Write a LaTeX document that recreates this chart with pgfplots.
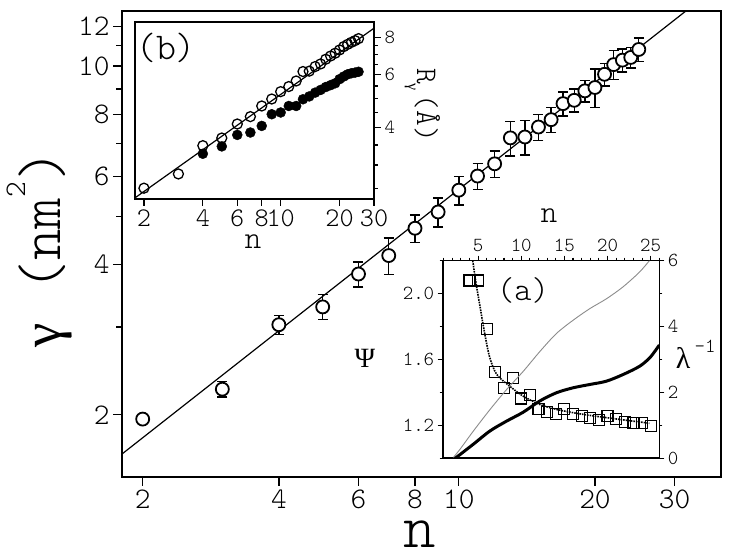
\documentclass[border=0pt]{standalone}
\usepackage{fontspec}
\usepackage{pgfplots}
\usepackage{pgfplotstable}
\pgfplotsset{compat=1.18}
\newfontfamily\gr{Liberation Serif}
\newfontfamily\lt{lmmonolt10-regular.otf}
\newcommand{\fs}[1]{\fontsize{#1}{#1}\selectfont}

% main panel: gamma vs n, with error bars
\pgfplotstableread{
n  g     e
2  1.96  0.04
3  2.25  0.08
4  3.03  0.13
5  3.29  0.19
6  3.83  0.22
7  4.17  0.35
8  4.73  0.30
9  5.10  0.34
10 5.64  0.37
11 6.02  0.36
12 6.37  0.39
13 7.18  0.57
14 7.21  0.57
15 7.55  0.45
16 7.81  0.44
17 8.41  0.46
18 8.54  0.45
19 8.92  0.45
20 9.06  0.80
21 9.63  0.50
22 10.07 0.67
23 10.28 0.55
24 10.41 0.50
25 10.80 0.58
}\maindata

\begin{document}
\begin{tikzpicture}[x=1bp,y=1bp]
\useasboundingbox (0,0) rectangle (729,557);

\begin{axis}[at={(122bp,80bp)}, anchor=south west, scale only axis,
  width=599bp, height=466bp,
  xmode=log, ymode=log, xmin=1.8, xmax=38, ymin=1.5, ymax=12.9,
  axis line style={line width=1.8bp},
  tick align=outside, xtick pos=left, ytick pos=left,
  xtick={2,4,6,8,10,20,30}, xticklabels={2,4,6,8,10,20,30},
  ytick={2,4,6,8,10,12}, yticklabels={2,4,6,8,10,12},
  minor ytick={3,5,7,9,11},
  major tick length=9bp, minor tick length=6bp,
  every tick/.style={line width=1.3bp, black},
  ticklabel style={font=\lt\fs{30}},
]
\addplot[black, only marks, mark=*, mark size=6.5bp,
  mark options={fill=white, line width=1.8bp},
  error bars/.cd, y dir=both, y explicit,
  error bar style={line width=1.4bp},
  error mark options={mark size=5bp, line width=1.4bp, rotate=90}]
  table[x=n, y=g, y error=e] {\maindata};
\addplot[black, line width=1.2bp] coordinates {(1.8,1.668) (40,15.2)};
\end{axis}

% inset (b): R_gamma vs n
\begin{axis}[at={(135bp,358bp)}, anchor=south west, scale only axis,
  width=239bp, height=177bp,
  xmode=log, ymode=log, xmin=1.8, xmax=30, ymin=2.31, ymax=9.0,
  axis background/.style={fill=white},
  axis line style={line width=1.6bp},
  tick align=outside, xtick pos=left, ytick pos=right, yticklabel pos=right,
  xtick={2,4,6,8,10,20,30}, xticklabels={2,4,6,8,10,20,30},
  ytick={4,6,8}, yticklabels={4,6,8},
  minor ytick={2.5,3,3.5,4.5,5,5.5,6.5,7,7.5},
  major tick length=7bp, minor tick length=4bp,
  every tick/.style={line width=1.2bp, black},
  xticklabel style={font=\lt\fs{27}},
  yticklabel style={font=\lt\fs{20}},
]
\addplot[black, only marks, mark=*, mark size=5bp, mark options={fill=black}]
  coordinates {(4,3.27) (5,3.46) (6,3.78) (7,3.85) (8,4.05) (9,4.43) (10,4.49)
  (11,4.72) (12,4.72) (13,4.97) (14,5.08) (15,5.23) (16,5.34) (17,5.46) (18,5.54)
  (19,5.62) (20,5.80) (21,5.92) (22,6.02) (23,6.07) (24,6.10) (25,6.14)};
\addplot[black, only marks, mark=o, mark size=5bp, mark options={line width=1.3bp}]
  coordinates {(2,2.51) (3,2.80) (4,3.48) (5,3.69) (6,4.11) (7,4.35) (8,4.72)
  (9,4.98) (10,5.27) (11,5.48) (12,5.72) (13,6.15) (14,6.17) (15,6.39) (16,6.52)
  (17,6.76) (18,6.93) (19,7.08) (20,7.26) (21,7.45) (22,7.58) (23,7.70) (24,7.80) (25,7.92)};
\addplot[black, line width=1.2bp] coordinates {(1.8,2.33) (30,8.58)};
\end{axis}

% inset (a): Psi (left) and lambda^-1 (right) vs n
\begin{axis}[at={(442.7bp,98.7bp)}, anchor=south west, scale only axis,
  width=216.6bp, height=197.6bp,
  xmin=0.9, xmax=26, ymin=1.0, ymax=2.2,
  axis background/.style={fill=white},
  axis line style={line width=1.6bp},
  tick align=outside, xtick pos=right, xticklabel pos=right, ytick pos=left,
  xtick={5,10,15,20,25}, xticklabels={5,10,15,20,25},
  minor xtick={1,2,...,26},
  ytick={1.2,1.6,2.0}, yticklabels={1.2,1.6,2.0},
  minor ytick={1.0,1.4,1.8,2.2},
  major tick length=5bp, minor tick length=3bp,
  every tick/.style={line width=1.1bp, black},
  ticklabel style={font=\lt\fs{20}},
]
\addplot[black, densely dotted, line width=1.6bp, smooth] coordinates {
  (4.38,2.2) (4.77,2.06) (5.23,1.92) (5.69,1.78) (6.31,1.62) (7.15,1.51)
  (8.69,1.437) (10.23,1.377) (12.15,1.327) (14.08,1.297) (16.0,1.277)
  (17.9,1.261) (19.85,1.247) (22.15,1.231) (24.85,1.213)};
\addplot[black, only marks, mark=square, mark size=5.5bp, mark options={line width=1.2bp}]
  coordinates {(4,2.08) (5,2.08) (6,1.785) (7,1.522) (8,1.427) (9,1.488) (10,1.363)
  (11,1.383) (12,1.301) (13,1.283) (14,1.271) (15,1.301) (16,1.271) (17,1.257)
  (18,1.247) (19,1.231) (20,1.257) (21,1.237) (22,1.221) (23,1.213) (24,1.213) (25,1.197)};
\end{axis}
\begin{axis}[at={(442.7bp,98.7bp)}, anchor=south west, scale only axis,
  width=216.6bp, height=197.6bp,
  xmin=0.9, xmax=26, ymin=0, ymax=6,
  axis line style={line width=1.6bp},
  tick align=outside, xtick=\empty, ytick pos=right, yticklabel pos=right,
  ytick={0,2,4,6}, yticklabels={0,2,4,6}, minor ytick={1,3,5},
  major tick length=5bp, minor tick length=3bp,
  every tick/.style={line width=1.1bp, black},
  ticklabel style={font=\lt\fs{20}},
]
\addplot[black!45, line width=0.9bp, smooth] coordinates {
  (2.15,0.03) (2.92,0.28) (4.46,0.83) (6.38,1.48) (8.31,2.09) (10.23,2.64)
  (12.15,3.24) (14.08,3.79) (16.0,4.19) (17.92,4.54) (19.85,4.84) (21.77,5.20)
  (23.69,5.65) (24.85,6.0)};
\addplot[black, line width=3bp, smooth] coordinates {
  (2.35,0) (4.46,0.43) (6.38,0.83) (8.31,1.13) (10.23,1.40) (12.15,1.74)
  (14.08,1.99) (16.0,2.14) (17.92,2.24) (19.85,2.34) (21.77,2.54) (23.69,2.79)
  (24.85,3.04) (25.6,3.29) (26,3.44)};
\end{axis}

% labels
\node[font=\lt\fs{62}, anchor=base, inner sep=0] at (420,9) {n};
\node[rotate=90, anchor=base, font=\lt\fs{60}, inner sep=0] at (60,308)
  {{\gr\fs{55}γ} (nm{\fs{30}\raisebox{35bp}{2}})};
\node[font=\lt\fs{38}, inner sep=0] at (166,509.5) {(b)};
\node[font=\lt\fs{33}, inner sep=0] at (523,267) {(a)};
\node[font=\lt\fs{32}, anchor=base, inner sep=0] at (549,334) {n};
\node[font=\lt\fs{32}, anchor=base, inner sep=0] at (253,308) {n};
\node[rotate=-90, anchor=base west, font=\lt\fs{30}, inner sep=0] at (417,489)
  {R\raisebox{-9bp}{\gr\fs{16}γ}\hspace{4bp}(Å)};
\node[font=\gr\fs{28}] at (365,199) {Ψ};
\node[font=\gr\fs{30}] at (683,199) {λ};
\node[font=\lt\fs{20}] at (705,211) {-1};
\end{tikzpicture}
\end{document}
